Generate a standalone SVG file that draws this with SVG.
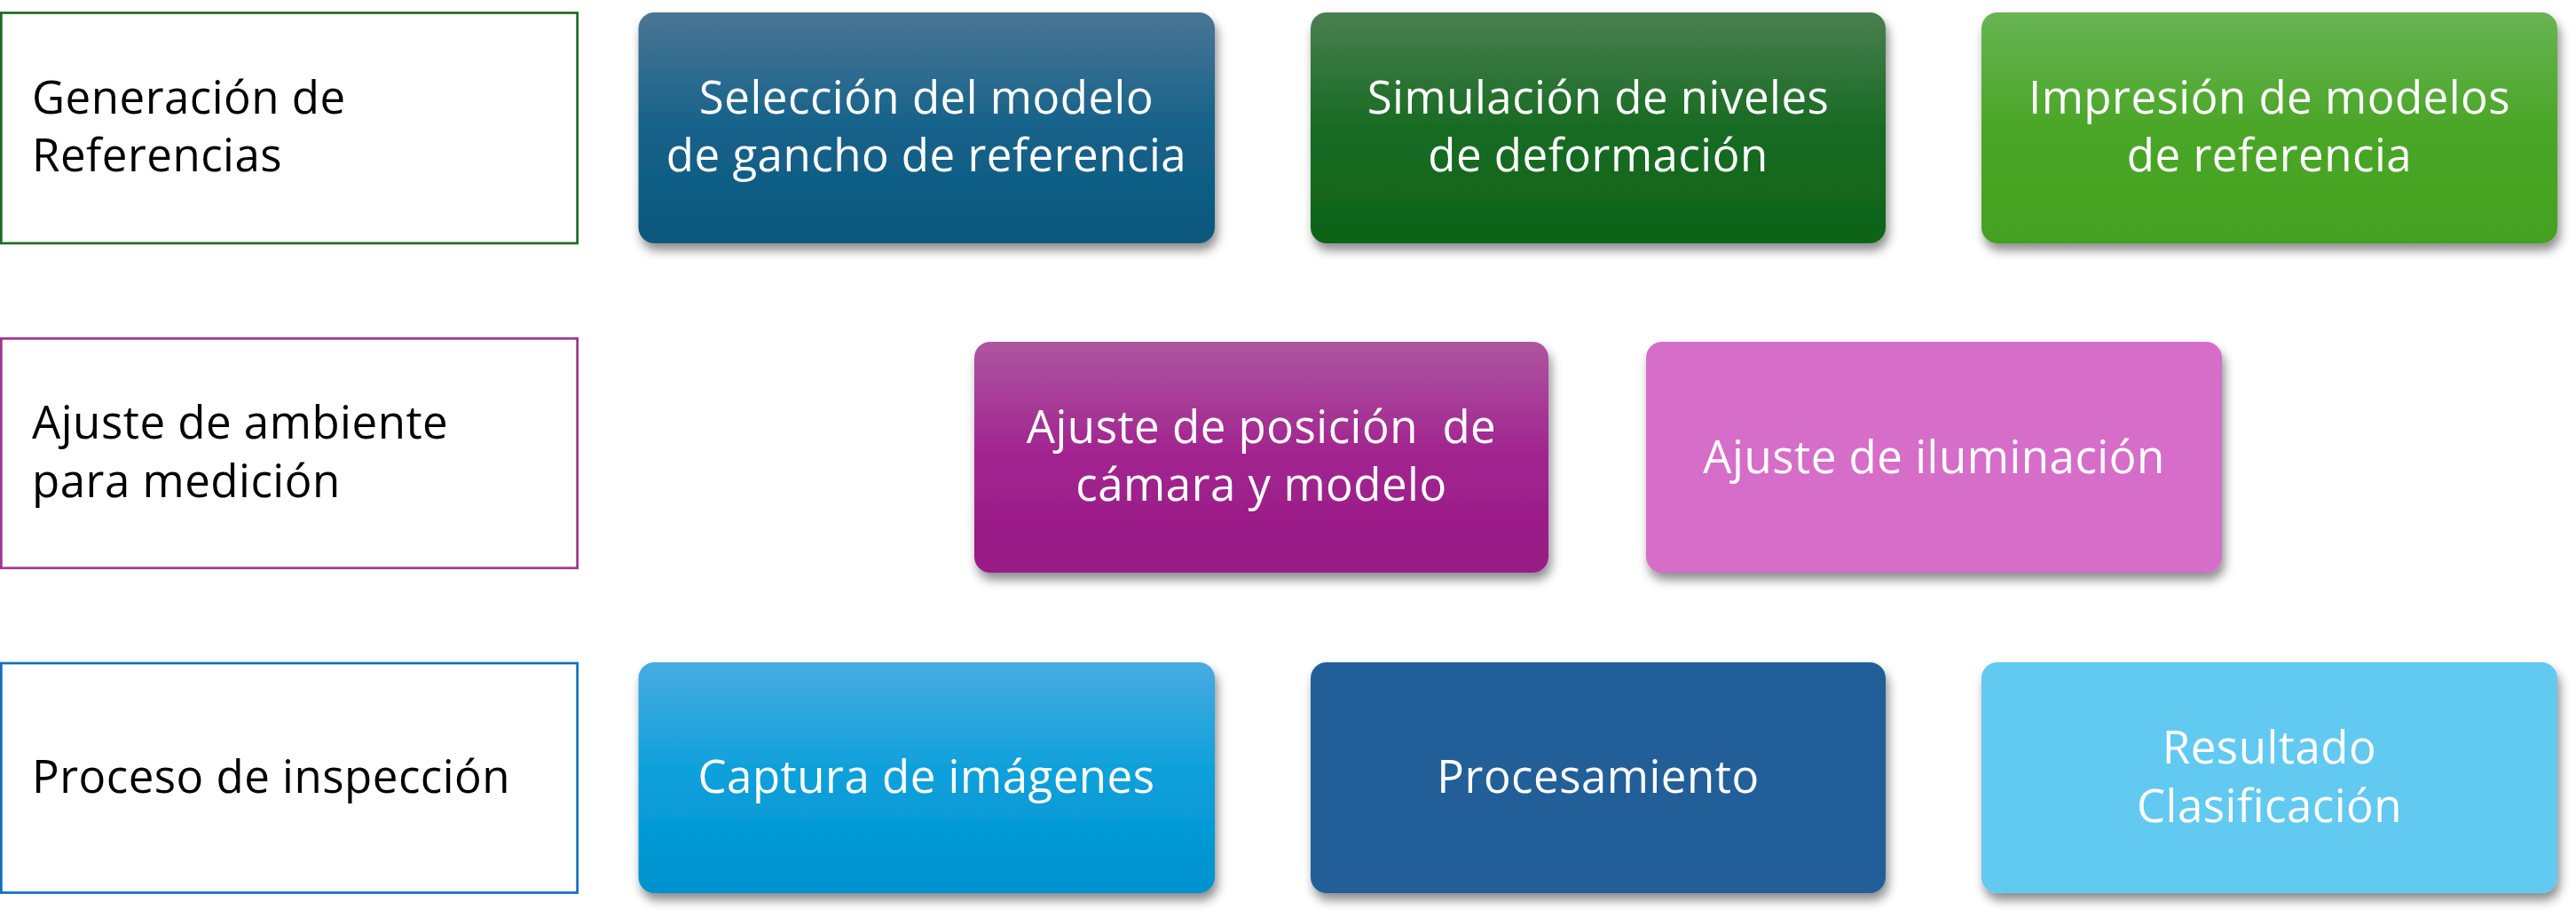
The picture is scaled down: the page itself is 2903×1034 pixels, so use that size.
<svg xmlns="http://www.w3.org/2000/svg" width="2903" height="1034" viewBox="0 0 2903 1034">
<style>
.lbl{fill:#ffffff;stroke-width:2.7}
.lt{font-family:"Open Sans","Liberation Sans",sans-serif;font-size:51px;letter-spacing:0.5px;fill:#000000}
.nt{font-family:"Open Sans","Liberation Sans",sans-serif;font-size:51px;letter-spacing:0.5px;fill:#ffffff;text-anchor:middle;white-space:pre}
.nd{filter:url(#sh)}
</style>
<defs>
<filter id="sh" x="-10%" y="-10%" width="125%" height="135%">
<feDropShadow dx="3" dy="8" stdDeviation="6" flood-color="#000000" flood-opacity="0.45"/>
</filter>
<linearGradient id="g1" x1="0" y1="0" x2="0" y2="1"><stop offset="0" stop-color="#4a7594"/><stop offset="0.5" stop-color="#15628a"/><stop offset="1" stop-color="#0b577d"/></linearGradient>
<linearGradient id="g2" x1="0" y1="0" x2="0" y2="1"><stop offset="0" stop-color="#4a7f50"/><stop offset="0.5" stop-color="#186b23"/><stop offset="1" stop-color="#0e6318"/></linearGradient>
<linearGradient id="g3" x1="0" y1="0" x2="0" y2="1"><stop offset="0" stop-color="#68b453"/><stop offset="0.5" stop-color="#4ba628"/><stop offset="1" stop-color="#43a11f"/></linearGradient>
<linearGradient id="g4" x1="0" y1="0" x2="0" y2="1"><stop offset="0" stop-color="#ad55a0"/><stop offset="0.5" stop-color="#a1238f"/><stop offset="1" stop-color="#971a85"/></linearGradient>
<linearGradient id="g6" x1="0" y1="0" x2="0" y2="1"><stop offset="0" stop-color="#48abe0"/><stop offset="0.5" stop-color="#0aa0db"/><stop offset="1" stop-color="#0092ce"/></linearGradient>
</defs>
<g id="label-generacion">
<rect class="lbl" x="1.35" y="14.5" width="649.3" height="259.5" stroke="#1e6b27"/>
<text class="lt" x="36" y="128">Generación de</text>
<text class="lt" x="36" y="193">Referencias</text>
</g>
<g id="label-ajuste">
<rect class="lbl" x="1.35" y="381.3" width="649.3" height="258.5" stroke="#a1338f"/>
<text class="lt" x="36" y="494">Ajuste de ambiente</text>
<text class="lt" x="36" y="560">para medición</text>
</g>
<g id="label-proceso">
<rect class="lbl" x="1.35" y="747" width="649.3" height="258.5" stroke="#0f6fc1"/>
<text class="lt" x="36" y="893">Proceso de inspección</text>
</g>
<g id="node-seleccion" class="nd">
<rect x="719.5" y="14" width="649.5" height="260" rx="18" fill="url(#g1)"/>
<text class="nt" x="1044" y="128">Selección del modelo</text>
<text class="nt" x="1044" y="193">de gancho de referencia</text>
</g>
<g id="node-simulacion" class="nd">
<rect x="1477" y="14" width="648" height="260" rx="18" fill="url(#g2)"/>
<text class="nt" x="1801" y="128">Simulación de niveles</text>
<text class="nt" x="1801" y="193">de deformación</text>
</g>
<g id="node-impresion" class="nd">
<rect x="2233" y="14" width="649" height="260" rx="18" fill="url(#g3)"/>
<text class="nt" x="2557.5" y="128">Impresión de modelos</text>
<text class="nt" x="2557.5" y="193">de referencia</text>
</g>
<g id="node-posicion" class="nd">
<rect x="1098" y="385" width="647" height="260" rx="18" fill="url(#g4)"/>
<text class="nt" x="1421.5" y="499">Ajuste de posición  de</text>
<text class="nt" x="1421.5" y="564">cámara y modelo</text>
</g>
<g id="node-iluminacion" class="nd">
<rect x="1855" y="385" width="649" height="260" rx="18" fill="#d66ec9"/>
<text class="nt" x="2179.5" y="533">Ajuste de iluminación</text>
</g>
<g id="node-captura" class="nd">
<rect x="719.5" y="746" width="649.5" height="260" rx="18" fill="url(#g6)"/>
<text class="nt" x="1044" y="893">Captura de imágenes</text>
</g>
<g id="node-procesamiento" class="nd">
<rect x="1477" y="746" width="648" height="260" rx="18" fill="#215f99"/>
<text class="nt" x="1801" y="893">Procesamiento</text>
</g>
<g id="node-resultado" class="nd">
<rect x="2233" y="746" width="649" height="260" rx="18" fill="#62c9f1"/>
<text class="nt" x="2557.5" y="860">Resultado</text>
<text class="nt" x="2557.5" y="926">Clasificación</text>
</g>
<g id="connectors"></g>
</svg>
